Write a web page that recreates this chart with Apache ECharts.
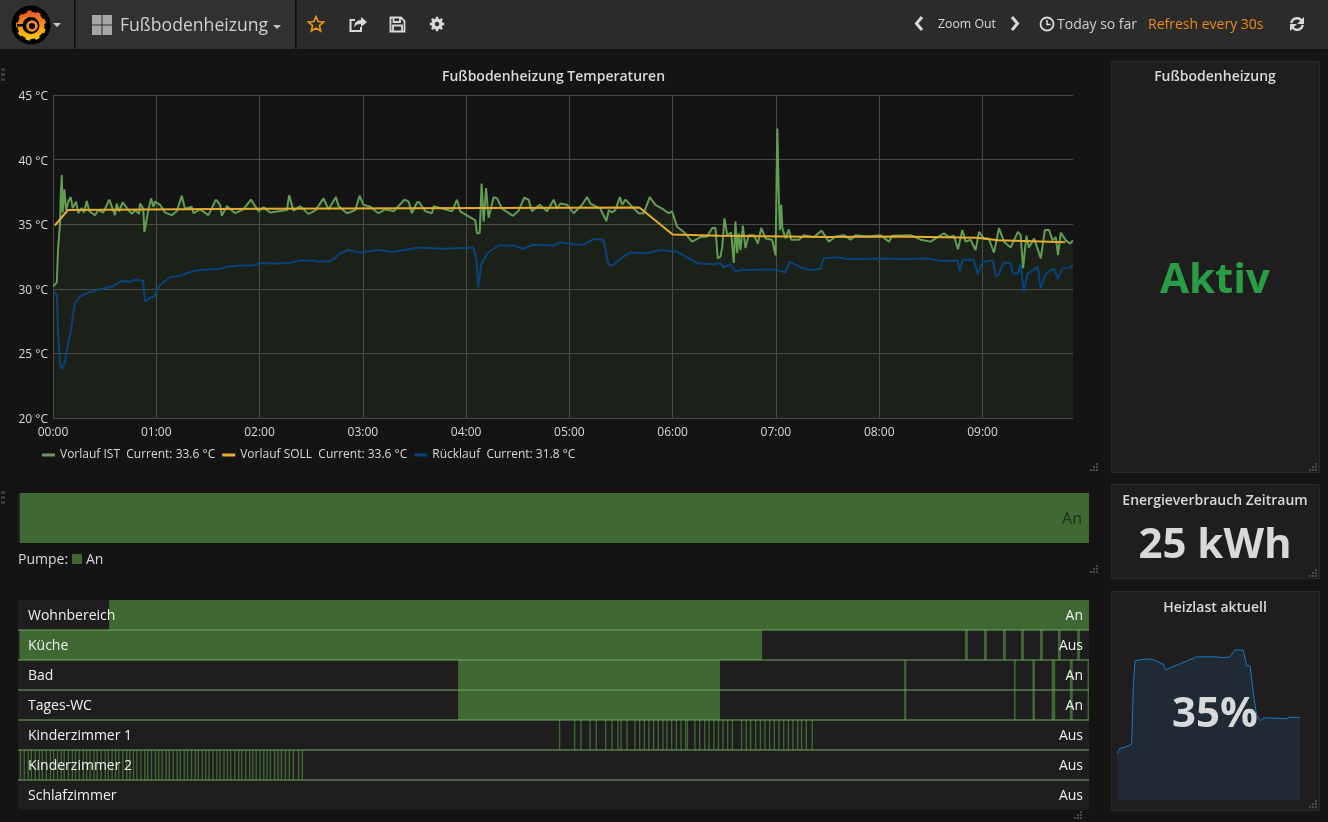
<!DOCTYPE html>
<html>
<head>
<meta charset="utf-8">
<title>Fußbodenheizung</title>
<style>
html, body { margin: 0; padding: 0; background: #141414; }
#main { width: 1328px; height: 822px; }
</style>
<script src="https://cdn.jsdelivr.net/npm/echarts@6/dist/echarts.min.js"></script>
</head>
<body>
<div id="main"></div>
<script>
// minutes since 00:00 -> °C
const vorlaufIst = [[0.2,30.2],[2.2,30.5],[2.9,33],[3.7,33.1],[4.1,35.1],[4.5,37.3],[5.1,38.8],[5.6,35.9],[6.6,37.7],[7.6,36.1],[8.9,36.75],[10.3,37.1],[11.5,36.25],[13.4,36.75],[14.7,35.85],[16.7,36.25],[18,35.9],[19.6,36.8],[21.1,36],[24.4,35.7],[26.3,36.1],[29.2,35.9],[32.7,36.9],[36,35.7],[37,36.6],[38.4,36],[40.5,36.7],[43.8,36.1],[45.8,35.8],[47.7,36.1],[50,35.8],[50.6,36.6],[52.5,36.2],[53.1,34.4],[53.9,34.4],[55.4,36.1],[57,37],[58.3,36.35],[59.3,36.75],[62.2,36.5],[65.1,35.9],[69,35.7],[71.9,36],[74.8,37.2],[76.7,36.2],[80.6,36.35],[81.6,35.85],[85.5,36.15],[90.3,35.7],[94.6,36.9],[97.1,36.5],[98.1,35.65],[101,36.4],[105.8,35.85],[110.6,36.15],[115,36.9],[119.4,36],[122.3,36.3],[126.2,35.9],[135.9,36.1],[137.2,37.25],[139.7,36.05],[143.6,36.4],[148.4,35.8],[152.3,36.05],[157.2,37],[160.1,36.15],[164.4,37.1],[165.9,36.4],[170.8,35.85],[175.6,36.1],[178.1,37.2],[180.4,36.5],[184.3,36.35],[189.1,35.85],[193,36.15],[197.9,36],[204.2,36.9],[206.6,36.75],[208.5,35.85],[211.5,36.7],[212.8,36.7],[216.3,36],[220.2,35.85],[221.1,36.4],[231.8,36],[234.7,36.9],[236.6,36],[245.4,35.3],[246.3,34.3],[247.9,34.3],[249,38.15],[250.2,35.2],[251.6,37.8],[253.1,35.5],[256,37.1],[258,37],[260.9,36.2],[267.3,35.65],[270.5,36.05],[273.8,37.05],[276.3,36.9],[278.3,36],[282.7,36.5],[287,36],[290.9,36.9],[292.8,36.2],[294.8,36.6],[298.7,36.5],[302.5,35.85],[307.4,36.5],[310.3,37.1],[312.2,36.6],[318,36.2],[321.5,35.25],[322.9,36.1],[324.8,35.9],[326.7,36.1],[329.3,37.1],[330.7,36.5],[332.6,36.9],[336.5,36.35],[340.3,35.85],[343.2,35.85],[346.7,37.1],[350,36.5],[353.9,36.2],[357.7,35.85],[359.7,36],[362.6,34.8],[366.5,34.4],[371.3,33.65],[376.2,34],[380,34.05],[383,34.7],[384.9,34.7],[386.2,32.35],[387.8,32.5],[388.8,33.25],[390.1,35.45],[391.7,34.15],[394,34.35],[395.5,32],[396.5,35.2],[397.5,32.75],[398.4,34.3],[399.4,33],[400.8,34.9],[402.3,33.15],[404.2,34.15],[407.2,34.15],[409.5,33.5],[411.5,34.7],[414,33.9],[417.8,33.8],[419.8,32.6],[420.8,42.4],[421.7,37.1],[422.3,34.55],[423.1,36.5],[423.7,34.7],[425.6,33.9],[427.5,34.6],[428.9,33.8],[433.3,33.8],[436.2,34.15],[442,34],[446.5,34.5],[450.8,33.65],[454.7,34.05],[459.5,34.15],[463.4,33.8],[466.3,34.15],[473,34.05],[480.8,34.15],[485.7,33.65],[487.6,34.1],[498.3,34.15],[504.1,33.8],[509.9,33.65],[517.6,34.3],[520.5,34],[523.4,34.1],[525.8,33.05],[528.3,34.55],[530.2,33.65],[533.1,33.8],[536,33],[538,34.4],[540.9,33.9],[543.6,33.9],[546.7,32.8],[549.6,34.7],[552.5,33.65],[556.4,33.2],[560.6,34.4],[562.2,34.15],[563.6,31.6],[565.5,34.1],[567,33.2],[570,33.9],[573.9,32.35],[576.2,34.55],[578.7,34.55],[580.7,33.75],[582.6,34],[583.9,32.6],[585.5,34.35],[588.4,33.75],[590.9,33.5],[592.5,33.75]];
const vorlaufSoll = [[1,34.9],[8.7,36.1],[120,36.2],[340.7,36.3],[360,34.2],[387,34.1],[450,34],[490,34.05],[537,33.95],[549,33.75],[588,33.6]];
const ruecklauf = [[0,29.9],[2.3,29.5],[2.9,26.8],[3.5,25.3],[4.1,24.2],[5.2,23.8],[5.8,23.8],[7,24.4],[8.7,25.7],[10.5,26.8],[11.6,28],[12.8,28.9],[15.7,29.4],[20.3,29.7],[25.6,29.9],[29,30],[34.9,30.2],[39.5,30.6],[44.8,30.55],[47.7,30.7],[52.3,30.65],[53.5,29],[56.4,29.3],[58.7,29.4],[62.2,30.3],[65.1,30.6],[68,30.9],[73.8,31],[79.7,31.3],[85.5,31.45],[97,31.55],[101,31.7],[108.7,31.8],[116.3,31.8],[121.5,32],[129,31.95],[137.8,32],[143.6,32.2],[151,32.2],[154,32.1],[161,32.15],[164.5,32.45],[166.9,32.75],[171.5,33],[178.5,32.8],[188.4,33],[198,32.85],[212,33.2],[226.7,33.1],[244.2,33.2],[246,32.3],[247,30.1],[248.8,31.9],[252.3,32.75],[258.7,33.35],[267.6,33.35],[273.3,33.1],[278.5,33.4],[290.7,33.35],[294.8,33.6],[302.3,33.45],[308.1,33.4],[314,33.85],[319.8,33.8],[321,33.05],[322.7,31.9],[325,31.8],[331.4,32.5],[335.5,32.8],[345.3,32.75],[352.9,33],[362.8,32.85],[372.1,32.15],[375,31.95],[383.7,31.9],[387.8,32],[389.6,31.65],[393.6,31.9],[396.5,31.35],[400.6,31.5],[402.3,31.45],[412.8,31.5],[419.8,31.5],[420.9,31.35],[425.6,31.25],[427.9,32.1],[434.3,31.65],[440.1,31.45],[445.9,31.55],[447.7,32.35],[455.8,32.45],[461.6,32.3],[470.9,32.3],[480.8,32.35],[494.2,32.3],[508.1,32.35],[515.7,32.15],[525.6,32.2],[526.7,31.35],[528.5,32.25],[534.9,32.25],[537.2,31.15],[540.1,32.1],[546,32.2],[547.7,31],[549.4,31.1],[552.3,32.05],[556.4,31.95],[557.6,31.2],[560.5,31.2],[562.2,31.9],[564,29.75],[566.3,31.2],[572.1,31.7],[573.9,30.05],[576.8,31.2],[581.4,31.55],[583.7,30.8],[586.6,31.6],[591.3,31.65],[592.4,31.85]];
const heizlast = [[1,19.8],[9.7,21.9],[25.9,22.3],[47.6,23.6],[52.8,48.7],[58.3,58.8],[74.5,59.4],[106.9,59.7],[128.6,58.8],[150,57.4],[157.7,55.1],[258,60.6],[323,60.6],[344,60.2],[366,60.6],[382,63.5],[409,63.4],[420,56.7],[431,56.7],[441,45.8],[452,36],[463,33.6],[479,34.8],[549,34.4],[557,35],[592.6,35]];

const tempTicks = [20, 25, 30, 35, 40, 45];
const hourLabels = ['00:00', '01:00', '02:00', '03:00', '04:00', '05:00', '06:00', '07:00', '08:00', '09:00'];
const tempNames = ['Vorlauf IST', 'Vorlauf SOLL', 'Rücklauf'];
const tempCurrent = ['33.6 °C', '33.6 °C', '31.8 °C'];

// on-times per room, [start, end] in minutes
const pumpeAn = [[1, 592.6]];
const rooms = ['Wohnbereich', 'Küche', 'Bad', 'Tages-WC', 'Kinderzimmer 1', 'Kinderzimmer 2', 'Schlafzimmer'];
const roomStates = ['An', 'Aus', 'An', 'An', 'Aus', 'Aus', 'Aus'];
const wohnbereichAn = [[50.4, 592.6]];
const kuecheAn = [[0.8, 411.7], [524, 525.6], [534.5, 536.1], [545, 546.6], [555, 556.6], [565.5, 567.1], [575.4, 577], [586, 587.6]];
const badAn = [[243.5, 388.4], [490.3, 491.5], [551.1, 552], [561.3, 562.7], [571.9, 573.9], [582, 583.6], [591.8, 592.6]];
const wcAn = [[243.5, 388.4], [490.3, 491.5], [551.1, 552], [561.3, 562.7], [571.9, 573.9], [582, 583.6], [591.8, 592.6]];
const kinder1Starts = [299.3,307.6,311.1,316.1,319.6,324.8,328.3,331.6,333.3,336.6,341,343.6,346.2,348.7,351.3,353.9,356.5,358.7,361.3,363.9,366.5,369,370,374.2,376.8,379.6,382,384.7,387.2,389.7,392.3,394.9,400,402.6,405,407.8,410.4,412.9,415.5,418.1,420.7,423.3,425.9,428.4,431,433.2,435.8,439.1];
const kinder2Starts = [1,3.1,5.3,7,9.2,11.4,13.1,15.3,17.6,19.4,21.5,23.6,25.2,27.5,29.7,31.4,33.5,35.8,37.6,39.5,41.7,43.4,45.6,47.9,49.6,51.7,53.6,55.4,57.6,59.8,61.5,63.5,65.4,67.6,69.8,71.4,73.5,75.7,77.5,79.4,81.6,83.3,85.5,87.7,89.4,91.6,93.4,95.6,97.7,99.4,101.6,103.5,105.3,107.5,109.7,111.4,113.6,115.5,117.3,119.6,121.7,123.4,125.6,127.8,129.5,131.4,133.6,135.6,137.4,139.3,141.6,143.5,145.4,147.6,149.8,152,154.9,157];
const blipLength = 0.75;

const T_MAX = 592.6;
const GREEN_ON = '#3f6833';
const TEXT = '#d8d9da';
const FONT = '"Open Sans"';

const blips = starts => starts.map(s => [s, s + blipLength]);
const roomSegments = [wohnbereichAn, kuecheAn, badAn, wcAn, blips(kinder1Starts), blips(kinder2Starts), []];

function segmentRows(rows) {
    const out = [];
    rows.forEach((segs, row) => segs.forEach(s => out.push([row, s[0], s[1]])));
    return out;
}

function renderSegment(params, api) {
    const row = api.value(0);
    const a = api.coord([api.value(1), row]);
    const b = api.coord([api.value(2), row]);
    const h = api.size([0, 1])[1];
    return { type: 'rect', shape: { x: a[0], y: a[1] - h / 2, width: b[0] - a[0], height: h }, style: { fill: GREEN_ON } };
}

function renderSeparator(params, api) {
    const c = api.coord([0, api.value(0)]);
    const h = api.size([0, 1])[1];
    return { type: 'rect', shape: { x: c[0], y: c[1] + h / 2 - 1, width: 1071, height: 2 }, style: { fill: 'rgba(112,170,96,0.5)' } };
}

// ---- page furniture
function txt(text, x, y, size, color, align, weight) {
    return { type: 'text', z: 20, style: { text: text, x: x, y: y, fill: color || TEXT, align: align || 'left', verticalAlign: 'middle',
        font: (weight || 400) + ' ' + size + 'px ' + FONT } };
}
function box(x, y, w, h, fill, stroke) {
    return { type: 'rect', z: 0, shape: { x: x, y: y, width: w, height: h }, style: { fill: fill, stroke: stroke || null, lineWidth: 1 } };
}
function poly(points, fill) {
    return { type: 'polygon', z: 20, shape: { points: points }, style: { fill: fill } };
}
function stroke(points, color, lw) {
    return { type: 'polyline', z: 20, shape: { points: points }, style: { stroke: color, lineWidth: lw, fill: null } };
}
function caret(x, y) {
    return poly([[x - 4, y], [x + 4, y], [x, y + 4]], '#c8c8c8');
}
function resizeGrip(x, y) {
    const out = [];
    [[6, 0], [3, 3], [6, 3], [0, 6], [3, 6], [6, 6]].forEach(p => out.push(box(x + p[0], y + p[1], 2, 2, '#4a4a4a')));
    out.forEach(o => { o.z = 20; });
    return out;
}
function dragGrip(x, y) {
    const out = [];
    [0, 5, 10].forEach(d => out.push(box(x, y + d, 4, 3, '#3a3a3a')));
    return out;
}
function star(cx, cy, R, r) {
    const pts = [];
    for (let i = 0; i < 10; i++) {
        const rad = i % 2 ? r : R;
        const ang = -Math.PI / 2 + i * Math.PI / 5;
        pts.push([cx + rad * Math.cos(ang), cy + rad * Math.sin(ang)]);
    }
    return pts;
}
function gear(cx, cy) {
    const out = [{ type: 'ring', z: 20, shape: { cx: cx, cy: cy, r: 5.6, r0: 2.2 }, style: { fill: TEXT } }];
    for (let i = 0; i < 8; i++) {
        const a = i * Math.PI / 4, c = Math.cos(a), s = Math.sin(a);
        out.push({ type: 'line', z: 20, shape: { x1: cx + 4.5 * c, y1: cy + 4.5 * s, x2: cx + 7.2 * c, y2: cy + 7.2 * s }, style: { stroke: TEXT, lineWidth: 2.6 } });
    }
    return out;
}
function logo(cx, cy) {
    const out = [{ type: 'circle', z: 20, shape: { cx: cx, cy: cy, r: 19.5 }, style: { fill: '#000' } }];
    const teeth = ['#f5821f', '#fbb514', '#fbc40f', '#fac50d', '#f9a817', '#f47a20', '#f05a28', '#f05a28', '#f26a24'];
    const grad = new echarts.graphic.LinearGradient(0, 1, 0, 0, [{ offset: 0, color: '#fbca0a' }, { offset: 1, color: '#f05a28' }]);
    for (let i = 0; i < 9; i++) {
        const a = i * 2 * Math.PI / 9 - 0.3;
        out.push({ type: 'line', z: 21, shape: { x1: cx + 11 * Math.cos(a), y1: cy + 0.5 + 11 * Math.sin(a), x2: cx + 15 * Math.cos(a), y2: cy + 0.5 + 15 * Math.sin(a) },
            style: { stroke: teeth[i], lineWidth: 4.6 } });
    }
    out.push({ type: 'ring', z: 22, shape: { cx: cx, cy: cy + 0.5, r: 13.5, r0: 8.5 }, style: { fill: grad } });
    out.push({ type: 'ring', z: 22, shape: { cx: cx + 1, cy: cy + 1, r: 5.8, r0: 3 }, style: { fill: '#f58a1f' } });
    out.push({ type: 'rect', z: 23, shape: { x: cx - 14, y: cy - 1, width: 8, height: 2.5 }, style: { fill: '#000' } });
    return out;
}

const graphics = [].concat(
    [
        box(0, 0, 1328, 49, '#2b2b2b'),
        box(0, 0, 295, 49, '#313131'),
        box(74, 0, 1.5, 49, '#0d0d0d'),
        box(295, 0, 1.5, 49, '#0d0d0d'),
        box(1111.5, 61.5, 208, 411, '#1f1d1d', '#292929'),
        box(1111.5, 484.5, 208, 94, '#1f1d1d', '#292929'),
        box(1111.5, 591.5, 208, 219, '#1f1d1d', '#292929')
    ],
    logo(31, 25),
    [
        caret(57, 23),
        box(92, 15, 9.5, 9.5, '#a6a6a6'), box(102.5, 15, 9.5, 9.5, '#a6a6a6'),
        box(92, 25.5, 9.5, 9.5, '#a6a6a6'), box(102.5, 25.5, 9.5, 9.5, '#a6a6a6'),
        txt('Fußbodenheizung', 120, 26, 17.6, '#d0d0d0'),
        caret(277, 25),
        { type: 'polygon', z: 20, shape: { points: star(316, 24.5, 8, 3.6) }, style: { fill: null, stroke: '#eb9a0e', lineWidth: 1.6 } },
        stroke([[361, 27], [361, 31], [350.5, 31], [350.5, 20], [355, 20]], TEXT, 2),
        poly([[354, 27], [355, 23], [358, 20.5], [361, 20], [361, 17], [367, 22], [361, 27], [361, 24], [357, 24.5]], TEXT),
        { type: 'polygon', z: 20, shape: { points: [[390.5, 17.5], [401, 17.5], [404.5, 21], [404.5, 31.5], [390.5, 31.5]] }, style: { fill: null, stroke: TEXT, lineWidth: 1.8 } },
        stroke([[393.5, 17.5], [393.5, 22], [400, 22], [400, 17.5]], TEXT, 1.8),
        stroke([[393, 31.5], [393, 25.5], [402, 25.5], [402, 31.5]], TEXT, 1.8)
    ],
    gear(437, 24),
    [
        stroke([[922, 17], [916.5, 23.5], [922, 30]], TEXT, 3),
        txt('Zoom Out', 938, 24, 12.3, TEXT),
        stroke([[1012, 17], [1017.5, 23.5], [1012, 30]], TEXT, 3),
        { type: 'ring', z: 20, shape: { cx: 1047, cy: 24, r: 7.4, r0: 5.6 }, style: { fill: TEXT } },
        stroke([[1047, 20], [1047, 24.5], [1050.5, 24.5]], TEXT, 1.5),
        txt('Today so far', 1057, 25.5, 14, '#cfcfcf'),
        txt('Refresh every 30s', 1148, 25.5, 14, '#eb8a17'),
        { type: 'arc', z: 20, shape: { cx: 1297, cy: 24, r: 5.8, startAngle: Math.PI * 1.05, endAngle: Math.PI * 1.8 }, style: { stroke: TEXT, lineWidth: 2.4, fill: null } },
        { type: 'arc', z: 20, shape: { cx: 1297, cy: 24, r: 5.8, startAngle: Math.PI * 0.05, endAngle: Math.PI * 0.8 }, style: { stroke: TEXT, lineWidth: 2.4, fill: null } },
        poly([[1304, 17], [1304, 24], [1297, 24]], TEXT),
        poly([[1290, 31], [1290, 24], [1297, 24]], TEXT),
        txt('Fußbodenheizung Temperaturen', 553.5, 77, 14, TEXT, 'center', 600),
        txt('Pumpe:', 18, 560, 14, TEXT),
        box(72, 554, 10, 10, GREEN_ON),
        txt('An', 86, 560, 14, TEXT),
        txt('Fußbodenheizung', 1215, 77.5, 14, TEXT, 'center', 600),
        txt('Aktiv', 1215, 281, 42, '#299c46', 'center', 700),
        txt('Energieverbrauch Zeitraum', 1215, 501, 14, TEXT, 'center', 600),
        txt('25 kWh', 1215, 546, 42, TEXT, 'center', 700),
        txt('Heizlast aktuell', 1215, 608, 14, TEXT, 'center', 600),
        txt('35%', 1215, 715, 42, TEXT, 'center', 700)
    ],
    dragGrip(1, 68), dragGrip(1, 491),
    resizeGrip(1090, 463), resizeGrip(1090, 565), resizeGrip(1074, 811),
    resizeGrip(1309, 463), resizeGrip(1309, 569), resizeGrip(1309, 800)
);

const hiddenX = gridIndex => ({ type: 'value', gridIndex: gridIndex, min: 0, max: T_MAX, show: false });

const option = {
    animation: false,
    backgroundColor: '#141414',
    textStyle: { fontFamily: FONT },
    graphic: { elements: graphics },
    legend: {
        data: tempNames,
        left: 42,
        top: 449,
        itemWidth: 13,
        itemHeight: 3,
        itemGap: 7,
        icon: 'rect',
        padding: 0,
        textStyle: { color: TEXT, fontSize: 12, fontFamily: FONT },
        formatter: name => name + '  Current: ' + tempCurrent[tempNames.indexOf(name)]
    },
    grid: [
        { left: 53, top: 95, width: 1020, height: 323 },
        { left: 18, top: 493, width: 1071, height: 50, show: true, backgroundColor: '#1e1e1e', borderWidth: 0 },
        { left: 18, top: 600, width: 1071, height: 210, show: true, backgroundColor: '#1e1e1e', borderWidth: 0 },
        { left: 1117, top: 634.6, width: 183, height: 165.4 }
    ],
    xAxis: [
        {
            type: 'value', gridIndex: 0, min: 0, max: T_MAX, interval: 60,
            axisLine: { show: false }, axisTick: { show: false },
            axisLabel: { color: TEXT, fontSize: 12, margin: 9, showMaxLabel: false, formatter: v => hourLabels[v / 60] },
            splitLine: { show: true, showMaxLine: false, lineStyle: { color: '#484848', width: 1 } }
        },
        hiddenX(1), hiddenX(2), hiddenX(3)
    ],
    yAxis: [
        {
            type: 'value', gridIndex: 0, min: tempTicks[0], max: tempTicks[tempTicks.length - 1], interval: 5,
            axisLine: { show: false }, axisTick: { show: false },
            // small line box with top alignment nudges the text just under the tick
            axisLabel: { color: TEXT, fontSize: 12, margin: 5, verticalAlign: 'top', lineHeight: 3, formatter: '{value} °C' },
            splitLine: { show: true, lineStyle: { color: '#484848', width: 1 } }
        },
        {
            type: 'category', gridIndex: 1, position: 'right', data: ['An'], z: 10,
            axisLine: { show: false }, axisTick: { show: false }, splitLine: { show: false },
            axisLabel: { inside: true, margin: 7, color: '#232f1f', fontSize: 16, verticalAlign: 'top', lineHeight: 2 }
        },
        {
            type: 'category', gridIndex: 2, inverse: true, data: rooms, z: 10,
            axisLine: { show: false }, axisTick: { show: false }, splitLine: { show: false },
            axisLabel: { inside: true, margin: 10, color: '#f0f0f0', fontSize: 14, verticalAlign: 'top', lineHeight: 2 }
        },
        {
            type: 'category', gridIndex: 2, inverse: true, position: 'right', data: roomStates, z: 10,
            axisLine: { show: false }, axisTick: { show: false }, splitLine: { show: false },
            axisLabel: { inside: true, margin: 6, color: '#f0f0f0', fontSize: 14, verticalAlign: 'top', lineHeight: 2, hideOverlap: false, interval: 0 }
        },
        { type: 'value', gridIndex: 3, min: 0, max: 70, show: false }
    ],
    series: [
        {
            name: tempNames[0], type: 'line', data: vorlaufIst, symbol: 'none', z: 3,
            lineStyle: { color: '#629e51', width: 2 }, itemStyle: { color: '#629e51' },
            areaStyle: { color: '#629e51', opacity: 0.1 }
        },
        {
            name: tempNames[2], type: 'line', data: ruecklauf, symbol: 'none', z: 4,
            lineStyle: { color: '#0a437c', width: 2 }, itemStyle: { color: '#0a437c' }
        },
        {
            name: tempNames[1], type: 'line', data: vorlaufSoll, symbol: 'none', z: 5,
            lineStyle: { color: '#e5ac2e', width: 2 }, itemStyle: { color: '#e5ac2e' }
        },
        {
            type: 'custom', xAxisIndex: 1, yAxisIndex: 1, renderItem: renderSegment, silent: true,
            encode: { x: [1, 2], y: 0 }, data: segmentRows([pumpeAn])
        },
        {
            type: 'custom', xAxisIndex: 2, yAxisIndex: 2, renderItem: renderSegment, silent: true,
            encode: { x: [1, 2], y: 0 }, data: segmentRows(roomSegments)
        },
        {
            type: 'custom', xAxisIndex: 2, yAxisIndex: 2, renderItem: renderSeparator, silent: true, z: 3,
            encode: { y: 0 }, data: rooms.slice(0, -1).map((r, i) => [i])
        },
        {
            type: 'line', xAxisIndex: 3, yAxisIndex: 4, data: heizlast, symbol: 'none',
            lineStyle: { color: '#1f78c1', width: 1 }, areaStyle: { color: '#1f78c1', opacity: 0.15 }
        }
    ]
};

const chart = echarts.init(document.getElementById('main'));
chart.setOption(option);
</script>
</body>
</html>
